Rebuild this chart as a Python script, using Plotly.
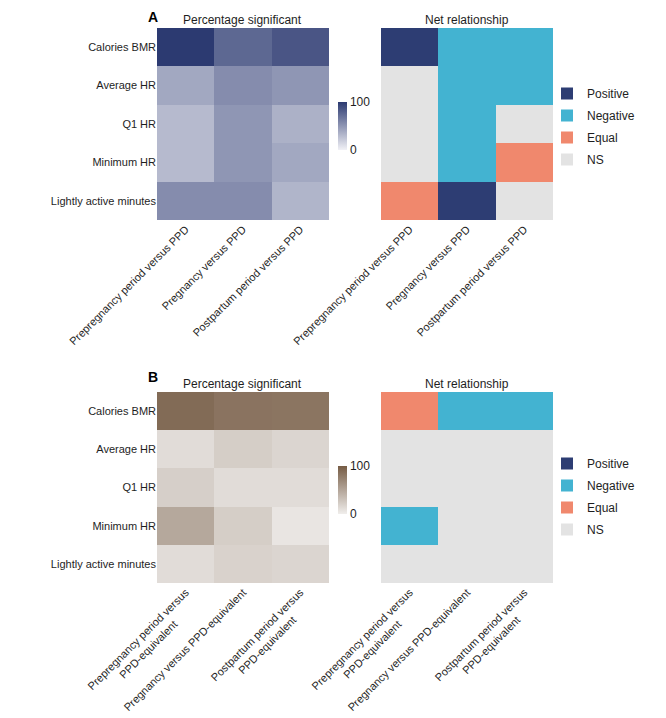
import plotly.graph_objects as go

NB = "\u00a0"
rows = ["Calories BMR", "Average HR", "Q1 HR", "Minimum HR", "Lightly active minutes"]
cols_a = ["Prepregnancy period versus PPD", "Pregnancy versus PPD", "Postpartum period versus PPD"]
cols_b = ["Prepregnancy period versus<br>PPD-equivalent" + NB * 10,
          "Pregnancy versus PPD-equivalent",
          "Postpartum period versus<br>PPD-equivalent" + NB * 8]

# percentage significant (rows x cols)
pct_a = [[100, 75, 85],
         [40, 55, 50],
         [30, 50, 35],
         [30, 50, 40],
         [55, 55, 33]]
pct_b = [[90, 84, 83],
         [12, 22, 17],
         [21, 12, 12],
         [48, 22, 6],
         [12, 19, 17]]

# net relationship categories
net_a = [["Positive", "Negative", "Negative"],
         ["NS", "Negative", "Negative"],
         ["NS", "Negative", "NS"],
         ["NS", "Negative", "Equal"],
         ["Equal", "Positive", "NS"]]
net_b = [["Equal", "Negative", "Negative"],
         ["NS", "NS", "NS"],
         ["NS", "NS", "NS"],
         ["Negative", "NS", "NS"],
         ["NS", "NS", "NS"]]

cat_names = ["Positive", "Negative", "Equal", "NS"]
cat_colors = ["#2d3d73", "#43b3d1", "#f0886d", "#e3e3e3"]

W, H = 666, 718
OFF = 8  # page body margin
FONT = "Liberation Sans, Arial, sans-serif"
TXT = "#1e1e1e"
FS = 11

def px(x):
    return (x - OFF) / W

def py(y):
    return 1 - (y - OFF) / H

fig = go.Figure()

blue_scale = [[0, "#f1f1f6"], [1, "#2c3a71"]]
brown_scale = [[0, "#f0eeec"], [1, "#765c45"]]

disc_scale = []
n = len(cat_colors)
for i, c in enumerate(cat_colors):
    disc_scale.append([i / n, c])
    disc_scale.append([(i + 1) / n, c])

def code(mat):
    return [[cat_names.index(v) + 0.5 for v in r] for r in mat]

panels = [
    (cols_a, pct_a, net_a, blue_scale, 28, 220, 1),
    (cols_b, pct_b, net_b, brown_scale, 392, 583, 3),
]

for cols, pct, net, scale, top, bot, ax in panels:
    cb_top = top + 74
    fig.add_trace(go.Heatmap(
        z=pct, x=cols, y=rows, colorscale=scale, zmin=0, zmax=100,
        xaxis=f"x{ax}", yaxis=f"y{ax}",
        colorbar=dict(x=px(338), xanchor="left", y=py(cb_top), yanchor="top",
                      len=48, lenmode="pixels", thickness=9, thicknessmode="pixels",
                      outlinewidth=0, tickvals=[0, 100], ticks="", xpad=0, ypad=0,
                      tickfont=dict(size=FS + 1, color=TXT, family=FONT)),
        hoverinfo="skip"))
    fig.add_trace(go.Heatmap(
        z=code(net), x=cols, y=rows, colorscale=disc_scale, zmin=0, zmax=n,
        showscale=False, xaxis=f"x{ax+1}", yaxis=f"y{ax+1}", hoverinfo="skip"))

# legend entries
for li, lg in enumerate(["legend", "legend2"]):
    for name, col in zip(cat_names, cat_colors):
        fig.add_trace(go.Scatter(
            x=[None], y=[None], mode="markers", name=name,
            marker=dict(symbol="square", size=15, color=col),
            legend=lg, legendgroup=f"{lg}{name}",
            xaxis="x2" if li == 0 else "x4", yaxis="y2" if li == 0 else "y4"))

xl = (157, 329)
xr = (381, 553)
axfont = dict(size=FS, color=TXT, family=FONT)
layout_axes = {}
for ax, (top, bot) in [(1, (28, 220)), (3, (392, 583))]:
    for k, (x0, x1) in enumerate([xl, xr]):
        idx = ax + k
        xname = "xaxis" if idx == 1 else f"xaxis{idx}"
        yname = "yaxis" if idx == 1 else f"yaxis{idx}"
        layout_axes[xname] = dict(domain=[px(x0), px(x1)], anchor=f"y{idx}",
                                  tickangle=-45, tickfont=axfont, showgrid=False,
                                  zeroline=False, showline=False, ticks="",
                                  automargin=False, fixedrange=True)
        layout_axes[yname] = dict(domain=[py(bot), py(top)], anchor=f"x{idx}",
                                  autorange="reversed", tickfont=axfont,
                                  showgrid=False, zeroline=False, ticks="",
                                  automargin=False,
                                  showticklabels=(k == 0), fixedrange=True)

fig.update_layout(**layout_axes)

leg_common = dict(font=dict(size=FS + 1, color=TXT, family=FONT), bgcolor="rgba(0,0,0,0)",
                  xanchor="left", yanchor="top", traceorder="grouped",
                  tracegroupgap=3, itemsizing="constant")
fig.update_layout(
    width=W, height=H, margin=dict(l=0, r=0, t=0, b=0, autoexpand=False),
    paper_bgcolor="white", plot_bgcolor="white",
    font=dict(family=FONT, color=TXT, size=FS),
    legend=dict(x=px(547), y=py(79), **leg_common),
    legend2=dict(x=px(547), y=py(449), **leg_common),
)

annots = [
    ("Percentage significant", 242, 20, FS + 1, False),
    ("Net relationship", 467, 20, FS + 1, False),
    ("Percentage significant", 242, 384, FS + 1, False),
    ("Net relationship", 467, 384, FS + 1, False),
    ("A", 153, 17, 14, True),
    ("B", 153, 377, 14, True),
]
for text, x, y, size, bold in annots:
    fig.add_annotation(text=f"<b>{text}</b>" if bold else text, x=px(x), y=py(y),
                       xref="paper", yref="paper", showarrow=False, borderpad=0,
                       font=dict(size=size, color="#000" if bold else TXT, family=FONT),
                       xanchor="center", yanchor="middle")

fig.write_html("out.html")
